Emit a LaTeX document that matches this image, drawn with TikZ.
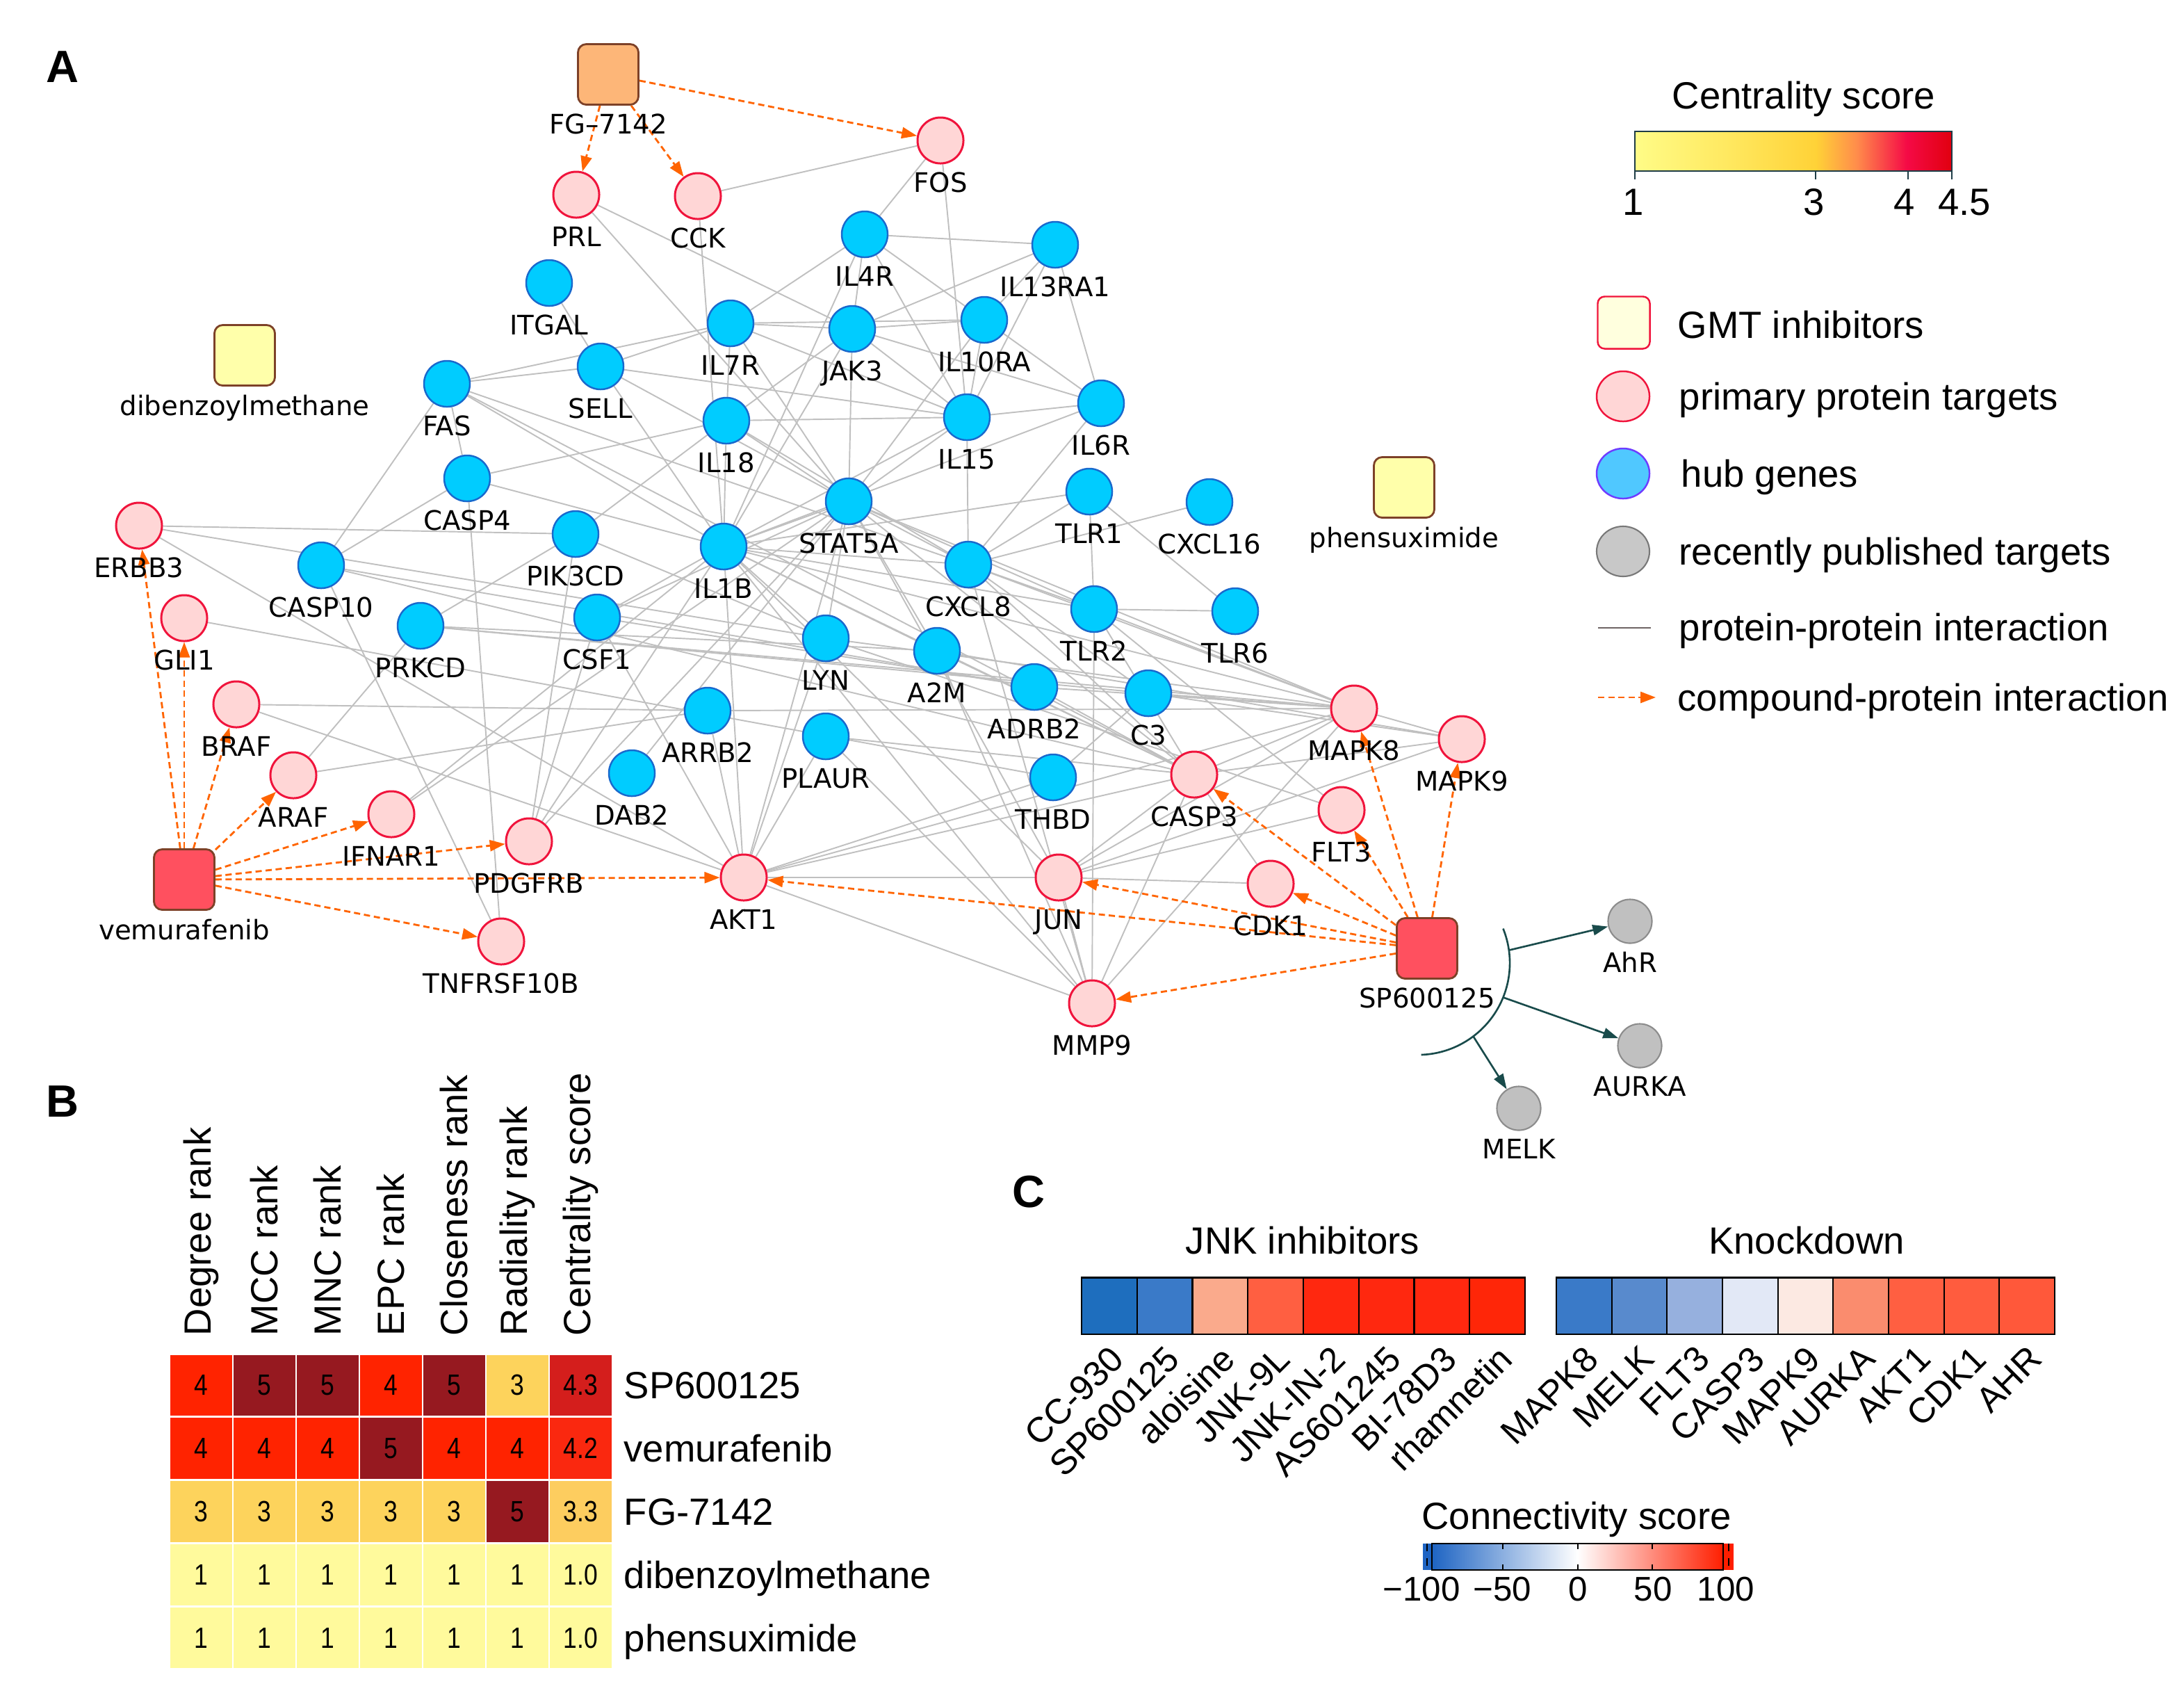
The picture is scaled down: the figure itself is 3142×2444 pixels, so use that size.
\documentclass[tikz,border=0pt]{standalone}
\usepackage{fontspec}
\setmainfont{Liberation Sans}
\newfontfamily\lblfont{DejaVu Sans}
\newfontfamily\narrowfont[FakeStretch=0.84]{Liberation Sans}
\usetikzlibrary{arrows.meta,backgrounds,shapes.geometric}
\definecolor{hubF}{RGB}{0,204,255}
\definecolor{hubB}{RGB}{25,105,205}
\definecolor{primF}{RGB}{255,214,214}
\definecolor{primB}{RGB}{240,20,60}
\definecolor{pubF}{RGB}{192,192,192}
\definecolor{pubB}{RGB}{140,140,140}
\definecolor{cmpdB}{RGB}{125,65,40}
\definecolor{fgF}{RGB}{253,182,120}
\definecolor{redF}{RGB}{255,80,95}
\definecolor{yelF}{RGB}{255,255,170}
\definecolor{edgeC}{RGB}{192,192,192}
\definecolor{cpiC}{RGB}{255,100,0}
\definecolor{tealC}{RGB}{25,75,75}
\definecolor{barB}{RGB}{30,60,70}
\definecolor{c1}{RGB}{255,252,135}
\definecolor{c2}{RGB}{255,232,95}
\definecolor{c3}{RGB}{255,210,55}
\definecolor{c35}{RGB}{255,140,75}
\definecolor{c4}{RGB}{245,10,70}
\definecolor{c45}{RGB}{225,0,15}
\definecolor{cB5}{RGB}{150,25,32}
\definecolor{cB4}{RGB}{255,35,0}
\definecolor{cB3}{RGB}{253,211,92}
\definecolor{cB1}{RGB}{255,250,156}
\definecolor{cB43}{RGB}{212,30,28}
\definecolor{cB42}{RGB}{250,40,15}
\definecolor{cB33}{RGB}{253,205,95}
\definecolor{cbBlue}{RGB}{30,100,195}
\definecolor{cbRed}{RGB}{255,30,0}
\pgfdeclarehorizontalshading{centr}{100bp}{color(0bp)=(c1); color(25bp)=(c1); color(40bp)=(c2); color(53.6bp)=(c3); color(60bp)=(c35); color(67.9bp)=(c4); color(75bp)=(c45); color(100bp)=(c45)}
\newcommand{\bcell}[4]{\node[bcell, fill=#3] (b#1x#2) at ({289.5+91*#1},{1992.4+90.8*#2}) {#4};}
\newcommand{\ccell}[4]{\node[ccell, fill=#2] (#1) at (#3,1878) {}; \node[clab] (#1t) at ({#3+12},1945) {#4};}
\begin{document}
\begin{tikzpicture}[x=0.01cm, y=-0.01cm, font=\fontsize{15.5}{18}\selectfont,
  nl/.style={label={[font=\lblfont\fontsize{11}{13}\selectfont, inner sep=0pt, yshift=-0.11cm]below:#1}},
  hub/.style={circle, draw=hubB, fill=hubF, line width=0.7pt, minimum size=0.66cm, inner sep=0pt},
  prim/.style={circle, draw=primB, fill=primF, line width=0.85pt, minimum size=0.66cm, inner sep=0pt},
  pub/.style={circle, draw=pubB, fill=pubF, line width=0.6pt, minimum size=0.63cm, inner sep=0pt},
  cmpd/.style={rectangle, rounded corners=0.12cm, draw=cmpdB, line width=0.8pt, minimum size=0.87cm, inner sep=0pt},
  ppi/.style={draw=edgeC, line width=0.55pt},
  cpi/.style={draw=cpiC, line width=0.8pt, dash pattern=on 0.09cm off 0.055cm, -{Triangle[length=0.22cm,width=0.16cm]}},
  pubarrow/.style={draw=tealC, line width=0.75pt, -{Triangle[length=0.22cm,width=0.15cm]}},
  bcell/.style={rectangle, minimum width=0.88cm, minimum height=0.875cm, inner sep=0pt, font=\narrowfont\fontsize{12}{14}\selectfont},
  ccell/.style={rectangle, draw=black, line width=0.6pt, minimum width=0.7975cm, minimum height=0.81cm, inner sep=0pt},
  clab/.style={rotate=45, anchor=east, inner sep=0pt, font=\fontsize{14.5}{16}\selectfont},
  lgtext/.style={anchor=base west, inner sep=0pt}
]
\useasboundingbox (0,0) rectangle (3142,2444);

% ---------------- Panel A ----------------
\node[font=\bfseries\fontsize{18.5}{20}\selectfont] (pA) at (90,96) {A};

% compounds
\node[cmpd, fill=fgF, nl=FG–7142] (FG) at (875,107) {};
\node[cmpd, fill=yelF, nl=dibenzoylmethane] (DBM) at (352,511) {};
\node[cmpd, fill=yelF, nl=phensuximide] (PHS) at (2020,701) {};
\node[cmpd, fill=redF, nl=vemurafenib] (VEM) at (265,1265) {};
\node[cmpd, fill=redF, nl=SP600125] (SP) at (2053,1364) {};

% primary targets
\node[prim, nl=FOS] (FOS) at (1353,202) {};
\node[prim, nl=PRL] (PRL) at (829,280) {};
\node[prim, nl=CCK] (CCK) at (1004,282) {};
\node[prim, nl=ERBB3] (ERBB3) at (200,756) {};
\node[prim, nl=GLI1] (GLI1) at (265,889) {};
\node[prim, nl=BRAF] (BRAF) at (340,1013) {};
\node[prim, nl=ARAF] (ARAF) at (422,1115) {};
\node[prim, nl=IFNAR1] (IFNAR1) at (563,1171) {};
\node[prim, nl=PDGFRB] (PDGFRB) at (761,1210) {};
\node[prim, nl=TNFRSF10B] (TNFRSF10B) at (721,1354) {};
\node[prim, nl=AKT1] (AKT1) at (1070,1262) {};
\node[prim, nl=JUN] (JUN) at (1523,1262) {};
\node[prim, nl=MMP9] (MMP9) at (1571,1443) {};
\node[prim, nl=CDK1] (CDK1) at (1828,1271) {};
\node[prim, nl=CASP3] (CASP3) at (1718,1114) {};
\node[prim, nl=FLT3] (FLT3) at (1930,1165) {};
\node[prim, nl=MAPK8] (MAPK8) at (1948,1019) {};
\node[prim, nl=MAPK9] (MAPK9) at (2103,1063) {};

% hub genes
\node[hub, nl=IL4R] (IL4R) at (1244,337) {};
\node[hub, nl=IL13RA1] (IL13RA1) at (1518,352) {};
\node[hub, nl=ITGAL] (ITGAL) at (790,407) {};
\node[hub, nl=IL7R] (IL7R) at (1051,465) {};
\node[hub, nl=JAK3] (JAK3) at (1226,473) {};
\node[hub, nl=IL10RA] (IL10RA) at (1416,460) {};
\node[hub, nl=SELL] (SELL) at (864,527) {};
\node[hub, nl=FAS] (FAS) at (643,552) {};
\node[hub, nl=IL6R] (IL6R) at (1584,580) {};
\node[hub, nl=IL18] (IL18) at (1045,605) {};
\node[hub, nl=IL15] (IL15) at (1391,600) {};
\node[hub, nl=CASP4] (CASP4) at (672,688) {};
\node[hub, nl=TLR1] (TLR1) at (1567,707) {};
\node[hub, nl=CXCL16] (CXCL16) at (1740,722) {};
\node[hub, nl=STAT5A] (STAT5A) at (1221,721) {};
\node[hub, nl=PIK3CD] (PIK3CD) at (828,768) {};
\node[hub, nl=IL1B] (IL1B) at (1041,786) {};
\node[hub, nl=CASP10] (CASP10) at (462,813) {};
\node[hub, nl=CXCL8] (CXCL8) at (1393,812) {};
\node[hub, nl=TLR2] (TLR2) at (1574,876) {};
\node[hub, nl=TLR6] (TLR6) at (1777,879) {};
\node[hub, nl=CSF1] (CSF1) at (859,888) {};
\node[hub, nl=PRKCD] (PRKCD) at (605,900) {};
\node[hub, nl=LYN] (LYN) at (1188,918) {};
\node[hub, nl=A2M] (A2M) at (1348,936) {};
\node[hub, nl=ADRB2] (ADRB2) at (1488,988) {};
\node[hub, nl=C3] (C3) at (1652,997) {};
\node[hub, nl=ARRB2] (ARRB2) at (1018,1022) {};
\node[hub, nl=PLAUR] (PLAUR) at (1188,1059) {};
\node[hub, nl=DAB2] (DAB2) at (909,1112) {};
\node[hub, nl=THBD] (THBD) at (1515,1118) {};

% recently published targets
\node[pub, nl=AhR] (AhR) at (2345,1325) {};
\node[pub, nl=AURKA] (AURKA) at (2359,1504) {};
\node[pub, nl=MELK] (MELK) at (2185,1594) {};

\begin{scope}[on background layer]
\foreach \a/\b in {CCK/FOS, PRL/JAK3, PRL/STAT5A, CCK/IL1B, FOS/IL4R, FOS/IL15,
  IL4R/IL13RA1, IL4R/IL7R, IL4R/JAK3, IL4R/IL10RA, IL4R/IL15, IL4R/IL1B,
  IL13RA1/JAK3, IL13RA1/IL10RA, IL13RA1/IL15, IL13RA1/IL6R,
  IL7R/JAK3, IL7R/IL10RA, IL7R/IL18, IL7R/STAT5A, IL7R/IL15,
  JAK3/IL10RA, JAK3/IL15, JAK3/IL6R, JAK3/STAT5A, JAK3/IL1B, JAK3/IL18,
  IL10RA/IL15, IL10RA/IL6R, IL10RA/STAT5A,
  IL15/IL6R, IL15/STAT5A, IL15/CXCL8, IL18/IL15, IL15/IL1B,
  IL6R/IL1B, IL6R/CXCL8,
  IL18/STAT5A, IL18/IL1B, IL18/CXCL8, IL18/CASP4, IL18/PIK3CD,
  SELL/ITGAL, SELL/IL7R, SELL/FAS, SELL/IL15, SELL/STAT5A, SELL/IL1B,
  FAS/IL7R, FAS/CASP4, FAS/CASP10, FAS/IL1B, FAS/CXCL8, FAS/CASP3,
  CASP4/IL1B, CASP4/CASP10, CASP4/TNFRSF10B,
  ERBB3/PIK3CD, ERBB3/AKT1, ERBB3/LYN,
  PIK3CD/PRKCD, PIK3CD/LYN, PIK3CD/PDGFRB,
  CASP10/ADRB2, CASP10/CASP3, CASP10/TNFRSF10B,
  GLI1/THBD,
  PRKCD/A2M, PRKCD/C3, PRKCD/MAPK8, ARAF/PRKCD, ARAF/ARRB2, BRAF/ARRB2, BRAF/AKT1,
  CSF1/IL1B, CSF1/AKT1, CSF1/STAT5A, CSF1/ADRB2,
  IFNAR1/IL1B, IFNAR1/STAT5A,
  PDGFRB/CSF1, PDGFRB/STAT5A, PDGFRB/IL1B,
  DAB2/STAT5A,
  IL1B/STAT5A, IL1B/CXCL8, IL1B/TLR2, IL1B/TLR1, IL1B/LYN, IL1B/CASP3, IL1B/MAPK8, IL1B/JUN, IL1B/MMP9, IL1B/AKT1, IL1B/A2M,
  STAT5A/CXCL8, STAT5A/TLR2, STAT5A/LYN, STAT5A/JUN, STAT5A/CASP3, STAT5A/MAPK8, STAT5A/AKT1, STAT5A/A2M,
  CXCL8/TLR1, CXCL8/TLR2, CXCL8/CXCL16, CXCL8/MAPK8, CXCL8/CASP3, CXCL8/MMP9, CXCL8/C3,
  TLR1/TLR2, TLR1/TLR6, TLR2/TLR6, TLR2/MMP9, TLR2/MAPK8, TLR2/CASP3, TLR2/FLT3,
  THBD/C3, THBD/AKT1,
  LYN/AKT1, LYN/MAPK8, LYN/FLT3,
  A2M/CASP3, A2M/MMP9, A2M/MAPK9,
  ADRB2/MAPK8, ADRB2/CASP3,
  C3/MAPK8, C3/MAPK9,
  PLAUR/AKT1, PLAUR/CASP3, PLAUR/MMP9,
  CASP3/JUN, CASP3/CDK1, CASP3/MAPK8, CASP3/MAPK9, CASP3/AKT1, CASP3/MMP9,
  JUN/MAPK8, JUN/MAPK9, JUN/CDK1, JUN/MMP9, JUN/AKT1, JUN/FLT3,
  MAPK8/MAPK9, AKT1/MAPK8, AKT1/MMP9, AKT1/ARRB2, MMP9/MAPK8, ARRB2/MAPK8}
  \draw[ppi] (\a) -- (\b);
\foreach \t in {FOS,PRL,CCK} \draw[cpi] (FG) -- (\t);
\foreach \t in {ERBB3,GLI1,BRAF,ARAF,IFNAR1,PDGFRB,AKT1,TNFRSF10B} \draw[cpi] (VEM) -- (\t);
\foreach \t in {MAPK8,MAPK9,FLT3,CDK1,CASP3,JUN,AKT1,MMP9} \draw[cpi] (SP) -- (\t);
\end{scope}

% arc and arrows to recently published targets
\coordinate (arcC) at (2040,1385);
\draw[draw=tealC, line width=0.75pt] (arcC) ++(22:1.32cm) arc[start angle=22, end angle=-88, radius=1.32cm];
\path (arcC) ++(8:1.32cm) coordinate (aA);
\path (arcC) ++(-22:1.32cm) coordinate (aB);
\path (arcC) ++(-53:1.32cm) coordinate (aC);
\draw[pubarrow] (aA) -- (AhR);
\draw[pubarrow] (aB) -- (AURKA);
\draw[pubarrow] (aC) -- (MELK);

% ---------------- Legend ----------------
\node (cst) at (2595,142) {Centrality score};
\shadedraw[shading=centr, draw=barB, line width=0.8pt] (2352,189) rectangle (2808,246);
\draw[barB, line width=0.7pt] (2352,246) -- (2352,258) (2612,246) -- (2612,258) (2745,246) -- (2745,258) (2808,246) -- (2808,258);
\node (ct1) at (2350,291) {1};
\node (ct3) at (2610,291) {3};
\node (ct4) at (2740,291) {4};
\node (ct45) at (2826,291) {4.5};

\node[rectangle, rounded corners=0.1cm, draw=primB, fill={rgb,255:red,255;green,255;blue,222}, line width=0.7pt, minimum size=0.75cm, inner sep=0pt] (lg1) at (2336,464) {};
\node[lgtext] (lt1) at (2413,486) {GMT inhibitors};
\node[ellipse, draw=primB, fill=primF, line width=0.7pt, minimum width=0.76cm, minimum height=0.72cm, inner sep=0pt] (lg2) at (2335,570) {};
\node[lgtext] (lt2) at (2415,589) {primary protein targets};
\node[ellipse, draw={rgb,255:red,110;green,60;blue,255}, fill={rgb,255:red,80;green,200;blue,255}, line width=0.7pt, minimum width=0.76cm, minimum height=0.72cm, inner sep=0pt] (lg3) at (2335,681) {};
\node[lgtext] (lt3) at (2418,700) {hub genes};
\node[ellipse, draw={rgb,255:red,120;green,120;blue,120}, fill={rgb,255:red,200;green,200;blue,200}, line width=0.6pt, minimum width=0.76cm, minimum height=0.72cm, inner sep=0pt] (lg4) at (2335,793) {};
\node[lgtext] (lt4) at (2415,812) {recently published targets};
\coordinate (lp1) at (2299,903);
\coordinate (lp2) at (2375,903);
\draw[draw={rgb,255:red,110;green,100;blue,100}, line width=0.8pt] (lp1) -- (lp2);
\node[lgtext] (lt5) at (2415,921) {protein-protein interaction};
\coordinate (lc1) at (2299,1003);
\coordinate (lc2) at (2382,1003);
\draw[cpi] (lc1) -- (lc2);
\node[lgtext] (lt6) at (2413,1022) {compound-protein interaction};

% ---------------- Panel B ----------------
\node[font=\bfseries\fontsize{18.5}{20}\selectfont] (pB) at (90,1584) {B};
\node[rotate=90, anchor=west, inner sep=0pt] (h1) at (289.5,1922) {Degree rank};
\node[rotate=90, anchor=west, inner sep=0pt] (h2) at (380.5,1922) {MCC rank};
\node[rotate=90, anchor=west, inner sep=0pt] (h3) at (471.5,1922) {MNC rank};
\node[rotate=90, anchor=west, inner sep=0pt] (h4) at (562.5,1922) {EPC rank};
\node[rotate=90, anchor=west, inner sep=0pt] (h5) at (653.5,1922) {Closeness rank};
\node[rotate=90, anchor=west, inner sep=0pt] (h6) at (744.5,1922) {Radiality rank};
\node[rotate=90, anchor=west, inner sep=0pt] (h7) at (835.5,1922) {Centrality score};

\bcell{0}{0}{cB4}{4}\bcell{1}{0}{cB5}{5}\bcell{2}{0}{cB5}{5}\bcell{3}{0}{cB4}{4}\bcell{4}{0}{cB5}{5}\bcell{5}{0}{cB3}{3}\bcell{6}{0}{cB43}{4.3}
\bcell{0}{1}{cB4}{4}\bcell{1}{1}{cB4}{4}\bcell{2}{1}{cB4}{4}\bcell{3}{1}{cB5}{5}\bcell{4}{1}{cB4}{4}\bcell{5}{1}{cB4}{4}\bcell{6}{1}{cB42}{4.2}
\bcell{0}{2}{cB3}{3}\bcell{1}{2}{cB3}{3}\bcell{2}{2}{cB3}{3}\bcell{3}{2}{cB3}{3}\bcell{4}{2}{cB3}{3}\bcell{5}{2}{cB5}{5}\bcell{6}{2}{cB33}{3.3}
\bcell{0}{3}{cB1}{1}\bcell{1}{3}{cB1}{1}\bcell{2}{3}{cB1}{1}\bcell{3}{3}{cB1}{1}\bcell{4}{3}{cB1}{1}\bcell{5}{3}{cB1}{1}\bcell{6}{3}{cB1}{1.0}
\bcell{0}{4}{cB1}{1}\bcell{1}{4}{cB1}{1}\bcell{2}{4}{cB1}{1}\bcell{3}{4}{cB1}{1}\bcell{4}{4}{cB1}{1}\bcell{5}{4}{cB1}{1}\bcell{6}{4}{cB1}{1.0}

\node[lgtext] (r1) at (897,2011) {SP600125};
\node[lgtext] (r2) at (897,2102) {vemurafenib};
\node[lgtext] (r3) at (897,2193) {FG-7142};
\node[lgtext] (r4) at (897,2284) {dibenzoylmethane};
\node[lgtext] (r5) at (897,2375) {phensuximide};

% ---------------- Panel C ----------------
\node[font=\bfseries\fontsize{18.5}{20}\selectfont] (pC) at (1480,1714) {C};
\node (tJ) at (1874,1784) {JNK inhibitors};
\node (tK) at (2599,1784) {Knockdown};

\ccell{j1}{{rgb,255:red,30;green,110;blue,190}}{1595.9}{CC-930}
\ccell{j2}{{rgb,255:red,58;green,122;blue,200}}{1675.6}{SP600125}
\ccell{j3}{{rgb,255:red,250;green,170;blue,140}}{1755.4}{aloisine}
\ccell{j4}{{rgb,255:red,255;green,95;blue,65}}{1835.1}{JNK-9L}
\ccell{j5}{{rgb,255:red,255;green,40;blue,15}}{1914.9}{JNK-IN-2}
\ccell{j6}{{rgb,255:red,255;green,40;blue,15}}{1994.6}{AS601245}
\ccell{j7}{{rgb,255:red,255;green,40;blue,15}}{2074.4}{BI-78D3}
\ccell{j8}{{rgb,255:red,255;green,38;blue,8}}{2154.1}{rhamnetin}

\ccell{k1}{{rgb,255:red,58;green,122;blue,200}}{2278.8}{MAPK8}
\ccell{k2}{{rgb,255:red,88;green,138;blue,205}}{2358.5}{MELK}
\ccell{k3}{{rgb,255:red,150;green,176;blue,222}}{2438.2}{FLT3}
\ccell{k4}{{rgb,255:red,226;green,232;blue,246}}{2517.8}{CASP3}
\ccell{k5}{{rgb,255:red,252;green,233;blue,226}}{2597.5}{MAPK9}
\ccell{k6}{{rgb,255:red,250;green,140;blue,110}}{2677.2}{AURKA}
\ccell{k7}{{rgb,255:red,255;green,95;blue,65}}{2756.8}{AKT1}
\ccell{k8}{{rgb,255:red,255;green,92;blue,62}}{2836.5}{CDK1}
\ccell{k9}{{rgb,255:red,255;green,88;blue,58}}{2916.2}{AHR}

\node (cs) at (2268,2185) {Connectivity score};
\fill[cbBlue] (2047,2220) rectangle (2060,2258);
\fill[cbRed] (2479,2220) rectangle (2494,2258);
\shade[left color=cbBlue, right color=cbRed, middle color=white] (2060,2220) rectangle (2479,2258);
\draw[black, line width=0.8pt] (2060,2220) rectangle (2479,2258);
\foreach \x in {2162,2270,2377} {\draw[black, line width=0.6pt] (\x,2220) -- (\x,2228) (\x,2250) -- (\x,2258);}
\draw[black, line width=0.5pt, dashed] (2053,2220) -- (2053,2258) (2487,2220) -- (2487,2258);
\node[font=\fontsize{14}{16}\selectfont] (cl1) at (2045,2286) {−100};
\node[font=\fontsize{14}{16}\selectfont] (cl2) at (2161,2286) {−50};
\node[font=\fontsize{14}{16}\selectfont] (cl3) at (2270,2286) {0};
\node[font=\fontsize{14}{16}\selectfont] (cl4) at (2378,2286) {50};
\node[font=\fontsize{14}{16}\selectfont] (cl5) at (2483,2286) {100};
\end{tikzpicture}
\end{document}
